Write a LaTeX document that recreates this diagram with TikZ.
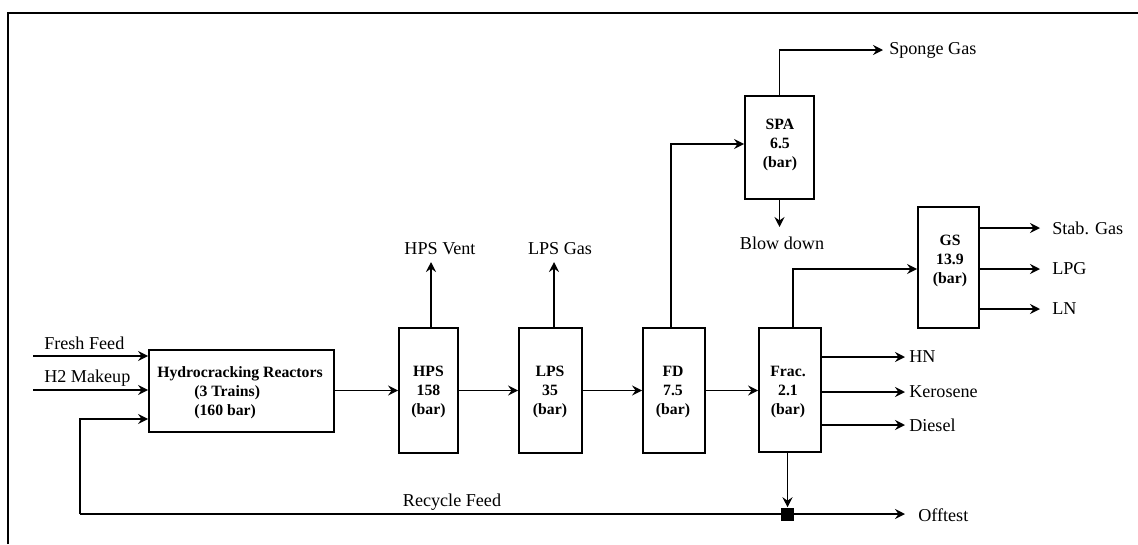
\documentclass[tikz,border=0pt]{standalone}
\usepackage{fontspec}
\setmainfont{Liberation Serif}
\usetikzlibrary{arrows.meta}
\begin{document}
\begin{tikzpicture}[x=0.75pt,y=-0.75pt,
  flow/.style={line width=1.4pt,-{Stealth[length=7.5pt,width=7.5pt,inset=2.6pt]}},
  line/.style={line width=1.4pt},
  unit/.style={draw,line width=1.4pt,inner sep=0pt},
  boxtext/.style={align=center,inner sep=0pt,font=\fontsize{11.8}{14.2}\selectfont\bfseries},
  lbl/.style={inner sep=0pt,font=\fontsize{13.6}{16}\selectfont}]
\useasboundingbox (0,0) rectangle (1138,544);
% frame
\draw[line width=1.6pt] (8,544) -- (8,13) -- (1138,13);

% units
\node[unit,minimum width=138.75pt,minimum height=61.5pt] (hcr) at (241.5,391) {};
\node[boxtext,align=left] (hcr-t) at (240,392.5) {Hydrocracking Reactors\\\hspace*{27.75pt}(3 Trains)\\\hspace*{27.75pt}(160 bar)};
\node[unit,minimum width=44.25pt,minimum height=93.75pt] (hps) at (428.5,390.5) {};
\node[boxtext] (hps-t) at (428.5,392) {HPS\\158\\(bar)};
\node[unit,minimum width=47.25pt,minimum height=93.75pt] (lps) at (550.5,390.5) {};
\node[boxtext] (lps-t) at (550,392) {LPS\\35\\(bar)};
\node[unit,minimum width=46.5pt,minimum height=93.75pt] (fd) at (674,390.5) {};
\node[boxtext] (fd-t) at (673,392) {FD\\7.5\\(bar)};
\node[unit,minimum width=46.5pt,minimum height=93pt] (frac) at (790,390) {};
\node[boxtext] (frac-t) at (788,392) {Frac.\\2.1\\(bar)};
\node[unit,minimum width=51.75pt,minimum height=77.25pt] (spa) at (779.5,147.5) {};
\node[boxtext] (spa-t) at (780,145) {SPA\\6.5\\(bar)};
\node[unit,minimum width=45.75pt,minimum height=90.75pt] (gs) at (948.5,267.5) {};
\node[boxtext] (gs-t) at (950,261) {GS\\13.9\\(bar)};
\node[fill=black,minimum size=9.75pt,inner sep=0pt] (sq) at (787.5,514) {};

% feed inputs
\coordinate (ff-s) at (33,356);
\coordinate (h2-s) at (33,390);
\node[lbl,anchor=west] (ff-l) at (44,343) {Fresh Feed};
\node[lbl,anchor=west] (h2-l) at (44,378) {H2 Makeup};
\draw[flow] (ff-s) -- (hcr.west |- ff-s);
\draw[flow] (h2-s) -- (hcr.west |- h2-s);

% main train
\draw[flow] (hcr.east |- hps.west) -- (hps.west);
\draw[flow] (hps.east) -- (lps.west);
\draw[flow] (lps.east) -- (fd.west);
\draw[flow] (fd.east) -- (fd.east -| frac.west);

% vents
\coordinate (vent-e) at (431,262);
\coordinate (lpsg-e) at (554,262);
\node[lbl] (vent-l) at (440,249) {HPS Vent};
\node[lbl] (lpsg-l) at (560,249) {LPS Gas};
\draw[flow] (vent-e |- hps.north) -- (vent-e);
\draw[flow] (lpsg-e |- lps.north) -- (lpsg-e);

% FD to SPA
\coordinate (fd-top) at (671,144);
\draw[flow] (fd-top |- fd.north) -- (fd-top) -- (spa.west |- fd-top);
\coordinate (sg-e) at (883,50);
\node[lbl,anchor=west] (sg-l) at (889,50) {Sponge Gas};
\draw[flow] (spa.north) |- (sg-e);
\coordinate (bd-e) at (779.5,227);
\node[lbl] (bd-l) at (782,243) {Blow down};
\draw[flow] (spa.south) -- (bd-e);

% Frac to GS
\coordinate (fg) at (793,269);
\draw[flow] (fg |- frac.north) -- (fg) -- (gs.west |- fg);
\coordinate (stab-e) at (1040,228);
\coordinate (lpg-e) at (1040,269);
\coordinate (ln-e) at (1040,309);
\draw[flow] (gs.east |- stab-e) -- (stab-e);
\draw[flow] (gs.east |- lpg-e) -- (lpg-e);
\draw[flow] (gs.east |- ln-e) -- (ln-e);
\node[lbl,anchor=west] (stab-l) at (1052,228) {Stab. Gas};
\node[lbl,anchor=west] (lpg-l) at (1052,269) {LPG};
\node[lbl,anchor=west] (ln-l) at (1052,309) {LN};

% Frac side products
\coordinate (hn-e) at (905,357);
\coordinate (ker-e) at (905,392);
\coordinate (dsl-e) at (905,425);
\draw[flow] (frac.east |- hn-e) -- (hn-e);
\draw[flow] (frac.east |- ker-e) -- (ker-e);
\draw[flow] (frac.east |- dsl-e) -- (dsl-e);
\node[lbl,anchor=west] (hn-l) at (909,357) {HN};
\node[lbl,anchor=west] (ker-l) at (909,392) {Kerosene};
\node[lbl,anchor=west] (dsl-l) at (909,425) {Diesel};

% bottoms
\draw[flow] (sq.north |- frac.south) -- (sq.north);
\coordinate (off-e) at (905,514);
\draw[flow] (sq.east) -- (off-e);
\node[lbl,anchor=west] (off-l) at (918,515) {Offtest};

% recycle
\coordinate (rc1) at (80,514);
\coordinate (rc2) at (80,419);
\draw[line] (sq.west) -- (rc1);
\draw[flow] (rc1) -- (rc2) -- (hcr.west |- rc2);
\node[lbl] (rc-l) at (452,502) {Recycle Feed};
\end{tikzpicture}
\end{document}
